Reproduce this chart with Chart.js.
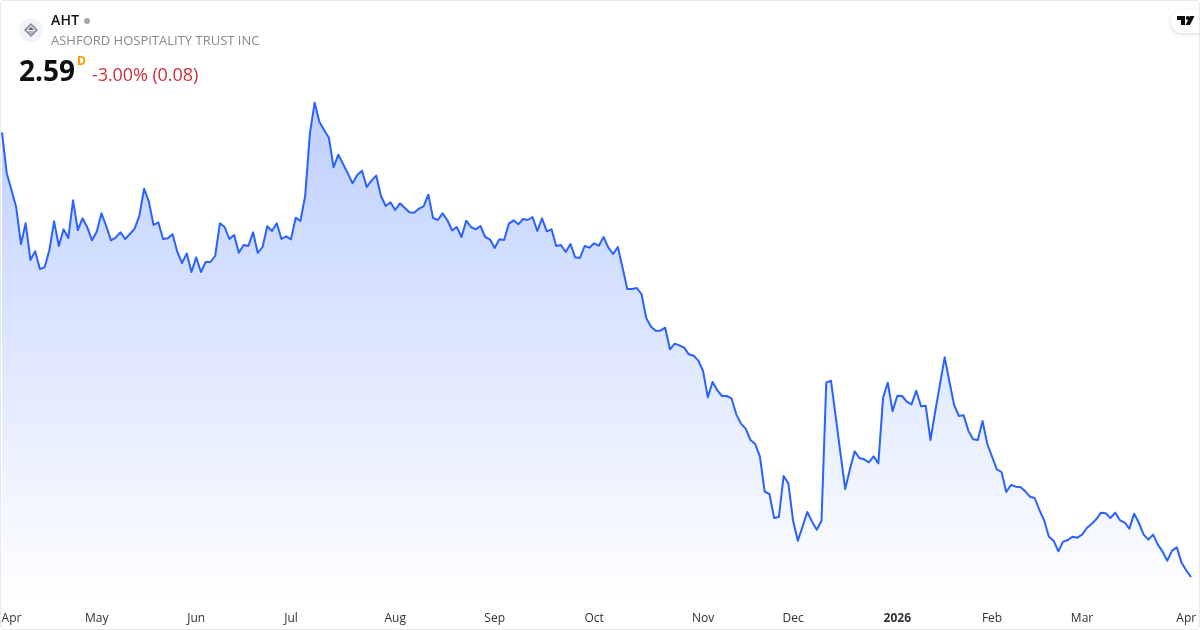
<!DOCTYPE html>
<html>
<head>
<meta charset="utf-8">
<title>AHT</title>
<script src="https://cdn.jsdelivr.net/npm/chart.js@4"></script>
<style>
    html, body { margin: 0; padding: 0; background: #fff; }
    #wrap { position: relative; width: 1200px; height: 630px; overflow: hidden; font-family: "Open Sans", "Noto Sans", sans-serif; }
    #frame { position: absolute; inset: 0; box-sizing: border-box; border: 1px solid #e6e8ee; border-radius: 4px; pointer-events: none; }
    canvas { position: absolute; left: 0; top: 0; }
    .txt { position: absolute; white-space: nowrap; line-height: 1; }
    #logo { position: absolute; left: 19px; top: 18px; }
    #tv { position: absolute; left: 1160px; top: 0; }
</style>
</head>
<body>
<div id="wrap">
    <canvas id="priceChart" width="1200" height="630"></canvas>
    <svg id="logo" width="24" height="24" viewBox="0 0 24 24">
        <circle cx="12" cy="12" r="12" fill="#f0f3fa"/>
        <path d="M12 5 L19 12 L12 19 L5 12 Z" fill="#8a8d96"/>
        <path d="M12 7.5 L16.5 12 L12 16.5 L7.5 12 Z" fill="#f0f3fa"/>
        <path d="M12 9 L15 12 H9 Z" fill="#5f626b"/>
        <path d="M8.5 13 H15.5 L12 16.5 Z" fill="#b4b7bf"/>
    </svg>
    <div class="txt" id="sym" style="left:51px;top:13px;font-size:14px;font-weight:600;color:#0f0f0f;letter-spacing:0.2px;">AHT</div>
    <div style="position:absolute;left:84px;top:18px;width:6px;height:6px;border-radius:50%;background:#a3a6af;"></div>
    <div class="txt" id="name" style="left:51px;top:34px;font-size:13px;color:#868993;">ASHFORD HOSPITALITY TRUST INC</div>
    <div class="txt" id="last" style="left:19px;top:56px;font-size:28px;font-weight:700;color:#0f0f0f;">2.59</div>
    <div class="txt" id="unit" style="left:77px;top:55px;font-size:12px;font-weight:700;color:#ff9800;">D</div>
    <div class="txt" id="chg" style="left:92px;top:65px;font-size:18px;letter-spacing:-0.08px;color:#cc2f3c;">-3.00% (0.08)</div>
    <svg id="tv" width="40" height="40" viewBox="0 0 40 40">
        <defs><filter id="sh" x="-40%" y="-40%" width="180%" height="180%"><feDropShadow dx="0" dy="1" stdDeviation="2" flood-color="#000" flood-opacity="0.16"/></filter></defs>
        <rect x="11" y="10" width="40" height="23" rx="11.5" fill="#fff" filter="url(#sh)"/>
        <path d="M17 16 H25 V25 H21 V20 H17 Z M30 16 H34.5 L30 25 H25.5 Z" fill="#0f0f0f"/>
        <circle cx="27.8" cy="18" r="2" fill="#0f0f0f"/>
    </svg>
    <div id="frame"></div>
</div>
<script>
// closing prices, one per trading day
const prices = [
    7.926, 7.434, 7.234, 7.026, 6.586, 6.834, 6.394, 6.498, 6.286, 6.306, 6.514, 6.858, 6.562, 6.762, 6.658, 7.110,
    6.754, 6.894, 6.786, 6.630, 6.734, 6.954, 6.802, 6.630, 6.662, 6.726, 6.646, 6.706, 6.770, 6.926, 7.250, 7.094,
    6.814, 6.846, 6.646, 6.654, 6.702, 6.494, 6.358, 6.474, 6.250, 6.426, 6.250, 6.370, 6.370, 6.442, 6.834, 6.790,
    6.646, 6.694, 6.482, 6.574, 6.562, 6.726, 6.478, 6.550, 6.798, 6.742, 6.834, 6.646, 6.678, 6.642, 6.902,
    6.862, 7.162, 7.914, 8.282, 8.054, 7.954, 7.862, 7.506, 7.658, 7.546, 7.434, 7.314, 7.414, 7.466, 7.270, 7.346,
    7.406, 7.162, 7.042, 7.086, 6.994, 7.074, 7.022, 6.966, 6.962, 7.010, 7.038, 7.178, 6.898, 6.874, 6.954, 6.874,
    6.750, 6.790, 6.670, 6.866, 6.790, 6.762, 6.802, 6.670, 6.642, 6.538, 6.642, 6.634, 6.830, 6.870, 6.822, 6.886,
    6.874, 6.910, 6.742, 6.894, 6.738, 6.762, 6.562, 6.574, 6.490, 6.586, 6.426, 6.418, 6.562, 6.542, 6.594, 6.566,
    6.670, 6.542, 6.466, 6.550, 6.302,
    6.046, 6.046, 6.058, 5.986, 5.698, 5.594, 5.546, 5.546, 5.582, 5.322, 5.390, 5.370, 5.342, 5.262, 5.246, 5.186,
    5.062, 4.746, 4.930, 4.830, 4.762, 4.762, 4.734, 4.542, 4.430, 4.370, 4.234, 4.186, 4.034, 3.614, 3.586, 3.298,
    3.310, 3.802, 3.714, 3.266, 3.026, 3.194, 3.370, 3.254, 3.158, 3.266, 4.922, 4.946, 4.514, 4.074, 3.646, 3.882,
    4.098, 4.018, 4.002, 3.966, 4.038, 3.954, 4.742, 4.922, 4.578, 4.766,
    4.762, 4.694, 4.662, 4.826, 4.638, 4.646, 4.234, 4.574, 4.902, 5.226, 4.934, 4.654, 4.522, 4.530, 4.346, 4.242,
    4.234, 4.462, 4.186, 4.034, 3.882, 3.850, 3.610, 3.694, 3.674, 3.670, 3.618, 3.554, 3.538, 3.394, 3.270, 3.074,
    3.026, 2.898, 3.014, 3.034, 3.074, 3.062, 3.098, 3.178, 3.226, 3.282, 3.362, 3.354, 3.298, 3.362, 3.270, 3.242,
    3.170, 3.350, 3.238, 3.098, 3.038, 3.098, 2.978, 2.894, 2.786, 2.906, 2.946, 2.762, 2.67, 2.59
];

// which trading day carries which month label
const tickDays = [2, 20, 41, 61, 83, 104, 125, 148, 167, 189, 209, 228, 250];
const tickLabels = ['Apr', 'May', 'Jun', 'Jul', 'Aug', 'Sep', 'Oct', 'Nov', 'Dec', '2026', 'Feb', 'Mar', 'Apr'];

const days = prices.map((p, i) => i);
const fontFamily = '"Open Sans", "Noto Sans", sans-serif';

const ctx = document.getElementById('priceChart').getContext('2d');

new Chart(ctx, {
    type: 'line',
    data: {
        labels: days,
        datasets: [{
            data: prices,
            borderColor: '#2962ff',
            borderWidth: 2,
            borderJoinStyle: 'round',
            pointRadius: 0,
            tension: 0,
            fill: 'start',
            backgroundColor: (c) => {
                const area = c.chart.chartArea;
                if (!area) return 'rgba(41,98,255,0.3)';
                const grad = c.chart.ctx.createLinearGradient(0, 100, 0, area.bottom);
                grad.addColorStop(0, 'rgba(41,98,255,0.3)');
                grad.addColorStop(1, 'rgba(41,98,255,0)');
                return grad;
            }
        }]
    },
    options: {
        responsive: false,
        animation: false,
        layout: { padding: { left: 2, right: 9, top: 0, bottom: 0 } },
        plugins: { legend: { display: false }, tooltip: { enabled: false } },
        scales: {
            y: { display: false, min: 2.278, max: 9.514 },
            x: {
                border: { display: false },
                grid: { display: false, drawTicks: false },
                afterFit: (scale) => {
                    scale.height = 27;
                    scale.paddingLeft = 0;
                    scale.paddingRight = 0;
                },
                ticks: {
                    autoSkip: false,
                    maxRotation: 0,
                    padding: 8,
                    color: '#2e3138',
                    font: (c) => ({
                        family: fontFamily,
                        size: 12,
                        weight: c.tick && c.tick.label === '2026' ? 'bold' : 'normal'
                    }),
                    callback: (value) => {
                        const at = tickDays.indexOf(value);
                        return at >= 0 ? tickLabels[at] : '';
                    }
                }
            }
        }
    }
});
</script>
</body>
</html>
